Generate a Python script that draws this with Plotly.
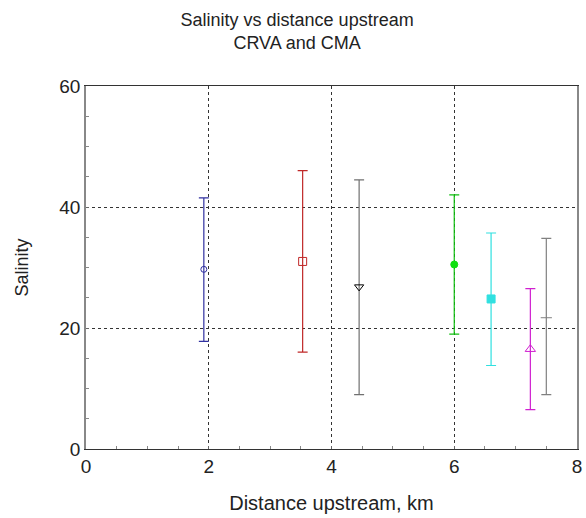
import plotly.graph_objects as go

distance = [1.92, 3.53, 4.45, 6.0, 6.6, 7.24, 7.5]
salinity = [29.7, 31.0, 26.8, 30.5, 24.8, 16.5, 21.7]
upper = [41.5, 46.0, 44.5, 42.0, 35.7, 26.5, 34.8]
lower = [17.8, 16.0, 9.0, 19.0, 13.8, 6.5, 9.0]

bar_colors = ["#3030a0", "#c02828", "#707070", "#10c010", "#30e0e0", "#d020d0", "#808080"]
marker_colors = ["#3030a0", "#c02828", "#000000", "#10e010", "#30e0e0", "#d020d0", "#808080"]
symbols = ["circle-open", "square-open", "triangle-down-open", "circle", "square", "triangle-up-open", "line-ew-open"]
sizes = [6, 8, 8, 7, 8, 9, 8]

fig = go.Figure()
for i in range(len(distance)):
    fig.add_trace(go.Scatter(
        x=[distance[i]], y=[salinity[i]], mode="markers",
        marker=dict(symbol=symbols[i], color=marker_colors[i], size=sizes[i],
                    line=dict(color=marker_colors[i], width=1)),
        error_y=dict(type="data", symmetric=False,
                     array=[upper[i] - salinity[i]],
                     arrayminus=[salinity[i] - lower[i]],
                     color=bar_colors[i], thickness=1.2, width=5),
        showlegend=False,
    ))

fig.update_layout(
    width=586, height=518,
    margin=dict(l=86, r=4, t=86, b=69),
    paper_bgcolor="white", plot_bgcolor="white",
    font=dict(family="Liberation Sans, Arial, sans-serif", color="#222"),
    title=dict(text="Salinity vs distance upstream<br>CRVA and CMA",
               x=0.507, xanchor="center", y=0.95, yanchor="top",
               font=dict(size=18, color="#222")),
)
fig.update_xaxes(
    range=[0, 8], dtick=2, showgrid=True, gridcolor="#333", griddash="dot", gridwidth=1,
    zeroline=False, showline=True, linecolor="#333", linewidth=1, mirror=True,
    ticks="inside", ticklen=3, tickcolor="#666",
    minor=dict(dtick=0.5, ticks="inside", ticklen=3, tickcolor="#888", showgrid=False),
    tickfont=dict(size=19, color="#222"),
    title=dict(text="Distance upstream, km", font=dict(size=20, color="#222"), standoff=20),
)
fig.update_yaxes(
    range=[0, 60], dtick=20, showgrid=True, gridcolor="#333", griddash="dot", gridwidth=1,
    zeroline=False, showline=True, linecolor="#888", linewidth=1.5, mirror=True,
    ticks="inside", ticklen=3, tickcolor="#666",
    minor=dict(dtick=5, ticks="inside", ticklen=3, tickcolor="#888", showgrid=False),
    tickfont=dict(size=19, color="#222"),
    title=dict(text="Salinity", font=dict(size=18, color="#222"), standoff=26),
)

fig.write_html("out.html")
